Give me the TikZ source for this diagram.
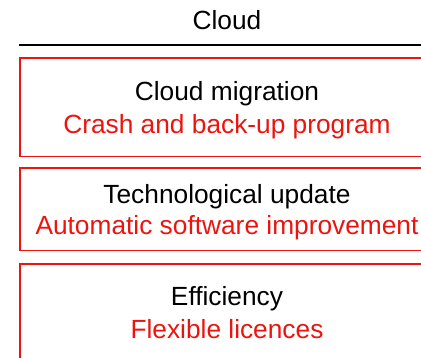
\documentclass[tikz,border=0pt]{standalone}
\usepackage{fontspec}
\setmainfont{Liberation Sans}
\definecolor{cloudred}{RGB}{235,20,15}
\begin{document}
\begin{tikzpicture}[x=1pt,y=1pt]
		\tikzstyle{box}=[rectangle,draw=cloudred,line width=1.5pt,minimum width=416pt,anchor=north west,inner sep=0pt]
		\tikzstyle{head}=[font=\fontsize{26.3}{32}\selectfont,anchor=base,inner sep=0pt]
		\tikzstyle{note}=[head,text=cloudred]
		\tikzstyle{rule}=[draw=black,line width=2pt]

		\useasboundingbox (0,0) rectangle (421,358);
		\clip (0,0) rectangle (421,358);

		 \node [head] (title) at (227,328.7) {Cloud};
		 \coordinate (rl) at (19,313);
		 \coordinate (rr) at (435,313);
		 \path[rule] (rl) -- (rr);

		 \node [box,minimum height=98.2pt] (mig) at (19,300.5) {};
		 \node [head] (migt) at (227,257) {Cloud migration};
		 \node [note] (mign) at (227,224.7) {Crash and back-up program};

		 \node [box,minimum height=82.5pt] (upd) at (19,190.5) {};
		 \node [head] (updt) at (227,154.7) {Technological update};
		 \node [note] (updn) at (227,123.5) {Automatic software improvement};

		 \node [box,minimum height=110pt] (eff) at (19,94.5) {};
		 \node [head] (efft) at (227,52) {Efficiency};
		 \node [note] (effn) at (227,19.7) {Flexible licences};

	\end{tikzpicture}
\end{document}
